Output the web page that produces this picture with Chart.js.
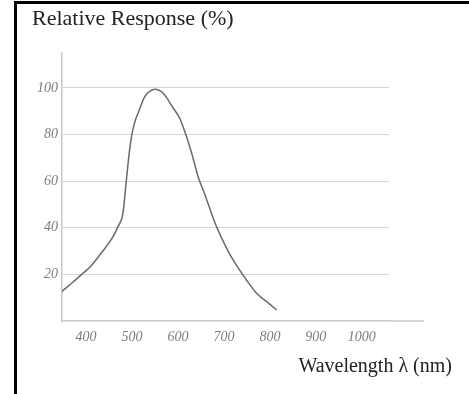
<!DOCTYPE html>
<html>
<head>
<meta charset="utf-8">
<script src="https://cdn.jsdelivr.net/npm/chart.js@4.4.1/dist/chart.umd.min.js"></script>
<style>
  html, body { margin: 0; padding: 0; background: #fff; }
  body { width: 469px; height: 394px; position: relative; overflow: hidden; }
  .frame { position: absolute; left: 14px; top: 1px; width: 500px; height: 450px; border-left: 3px solid #000; border-top: 3px solid #000; }
  canvas { position: absolute; left: 0; top: 0; }
  .label { position: absolute; font-family: "Liberation Serif", "Times New Roman", serif; color: #222; white-space: nowrap; }
  #yTitle { left: 32px; top: 5px; font-size: 22px; }
  #xTitle { right: 17px; top: 354px; font-size: 20px; }
</style>
</head>
<body>
<div class="frame"></div>
<canvas id="responseChart" width="469" height="394"></canvas>
<div class="label" id="yTitle">Relative Response (%)</div>
<div class="label" id="xTitle">Wavelength λ (nm)</div>
<script>
// Spectral response curve
const wavelengths = [347, 369, 391, 410, 430, 459, 470, 478, 481, 488, 493, 499, 505, 514, 528, 540, 550, 568, 590, 604, 615, 630, 644, 659, 673, 684, 706, 720, 749, 771, 793, 815]
const responses = [12.6, 16.2, 20, 23.4, 28.3, 36.2, 40.6, 44, 46.9, 60.5, 70, 79, 84.5, 89.5, 96.3, 98.7, 99.4, 97.7, 91.3, 87, 81.3, 72, 61.9, 54.1, 46.2, 40.5, 31.2, 26.2, 17.6, 11.9, 8.3, 4.7]

const xTicks = [400, 500, 600, 700, 800, 900, 1000]
const yTicks = [20, 40, 60, 80, 100]

const tickFont = { family: "'Liberation Serif', 'Times New Roman', serif", size: 14, style: "italic" }

// x axis line runs a little past the last grid line
const axisTail = {
  id: "axisTail",
  afterDraw(chart) {
    const { ctx, chartArea } = chart
    ctx.save()
    ctx.strokeStyle = "#c8c8c8"
    ctx.lineWidth = 1.5
    ctx.beginPath()
    ctx.moveTo(chartArea.right, chartArea.bottom)
    ctx.lineTo(424, chartArea.bottom)
    ctx.stroke()
    ctx.restore()
  },
}

const chartEl = document.getElementById("responseChart")
new Chart(chartEl, {
  type: "line",
  data: {
    datasets: [
      {
        label: "Relative Response",
        data: wavelengths.map((w, i) => ({ x: w, y: responses[i] })),
        borderColor: "#6a6a6a",
        borderWidth: 1.5,
        pointRadius: 0,
        fill: false,
        cubicInterpolationMode: "monotone",
      },
    ],
  },
  options: {
    responsive: false,
    animation: false,
    layout: { padding: { left: 0, top: 53, right: 80, bottom: 33 } },
    plugins: {
      legend: { display: false },
      tooltip: { enabled: false },
    },
    scales: {
      x: {
        type: "linear",
        min: 348,
        max: 1059,
        afterBuildTicks: (scale) => {
          scale.ticks = xTicks.map((v) => ({ value: v }))
        },
        afterFit: (scale) => {
          scale.height = 40
        },
        grid: { display: false, drawTicks: false },
        border: { color: "#c8c8c8", width: 1.5 },
        ticks: {
          color: "#7e7e7e",
          font: tickFont,
          padding: 8,
          maxRotation: 0,
          autoSkip: false,
          callback: (v) => String(v),
        },
      },
      y: {
        min: 0,
        max: 115,
        afterBuildTicks: (scale) => {
          scale.ticks = yTicks.map((v) => ({ value: v }))
        },
        afterFit: (scale) => {
          scale.width = 62
        },
        grid: { color: "#d6d6d6", lineWidth: 1, drawTicks: false, borderDash: [3, 1] },
        border: { color: "#c8c8c8", width: 1.5 },
        ticks: {
          color: "#7e7e7e",
          font: tickFont,
          padding: 4,
        },
      },
    },
  },
  plugins: [axisTail],
})
</script>
</body>
</html>
